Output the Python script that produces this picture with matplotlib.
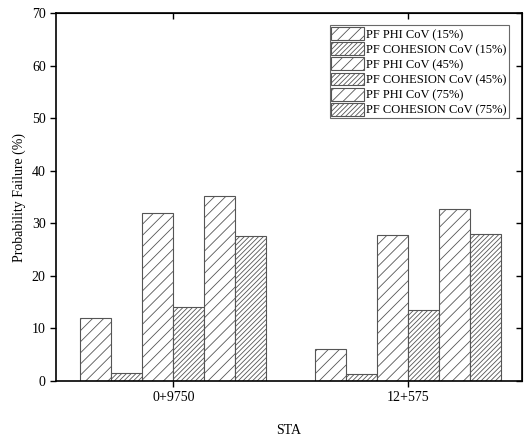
import numpy as np
import matplotlib
matplotlib.use("Agg")
import matplotlib.pyplot as plt

plt.rcParams['font.family'] = ['Liberation Serif', 'DejaVu Serif']
plt.rcParams['hatch.linewidth'] = 0.6
plt.rcParams['hatch.color'] = '#555555'

stations = ["0+9750", "12+575"]
series_labels = ["PF PHI CoV (15%)", "PF COHESION CoV (15%)",
                 "PF PHI CoV (45%)", "PF COHESION CoV (45%)",
                 "PF PHI CoV (75%)", "PF COHESION CoV (75%)"]
pf_values = [
    [12.0, 6.0],
    [1.5, 1.4],
    [32.0, 27.8],
    [14.0, 13.5],
    [35.2, 32.8],
    [27.6, 28.0],
]
hatches = ['///', '///////', '///', '///////', '///', '///////']

fig = plt.figure(figsize=(5.24, 4.41), dpi=100)
ax = fig.add_axes([0.107, 0.136, 0.889, 0.834])

x = np.arange(len(stations))
width = 0.132
for i, (vals, lab, h) in enumerate(zip(pf_values, series_labels, hatches)):
    offs = (i - 2.5) * width
    ax.bar(x + offs, vals, width, label=lab, facecolor='white',
           edgecolor='#555555', hatch=h, linewidth=0.8)

ax.set_xlim(-0.5, 1.485)
ax.set_ylim(0, 70)
ax.set_yticks(np.arange(0, 71, 10))
ax.set_xticks(x)
ax.set_xticklabels(stations)
ax.set_xlabel("STA", fontsize=10, labelpad=14)
ax.set_ylabel("Probability Failure (%)", fontsize=10)
ax.tick_params(axis='both', labelsize=10, direction='out', length=4, width=1)
for sp in ax.spines.values():
    sp.set_linewidth(1.2)

# mirrored ticks point inward on top and right
top = ax.secondary_xaxis('top')
top.set_xticks(x)
top.tick_params(direction='in', length=4, width=1, labeltop=False)
right = ax.secondary_yaxis('right')
right.set_yticks(np.arange(0, 71, 10))
right.tick_params(direction='in', length=4, width=1, labelright=False)

lgd = ax.legend(loc='upper right', bbox_to_anchor=(0.972, 0.967), fontsize=9,
                frameon=True, fancybox=False, edgecolor='#444444',
                borderpad=0.15, labelspacing=0.12, handlelength=2.6,
                handleheight=1.2, handletextpad=0.2, borderaxespad=0)
lgd.get_frame().set_linewidth(0.8)

plt.savefig("out.png", dpi=100)
plt.close(fig)
